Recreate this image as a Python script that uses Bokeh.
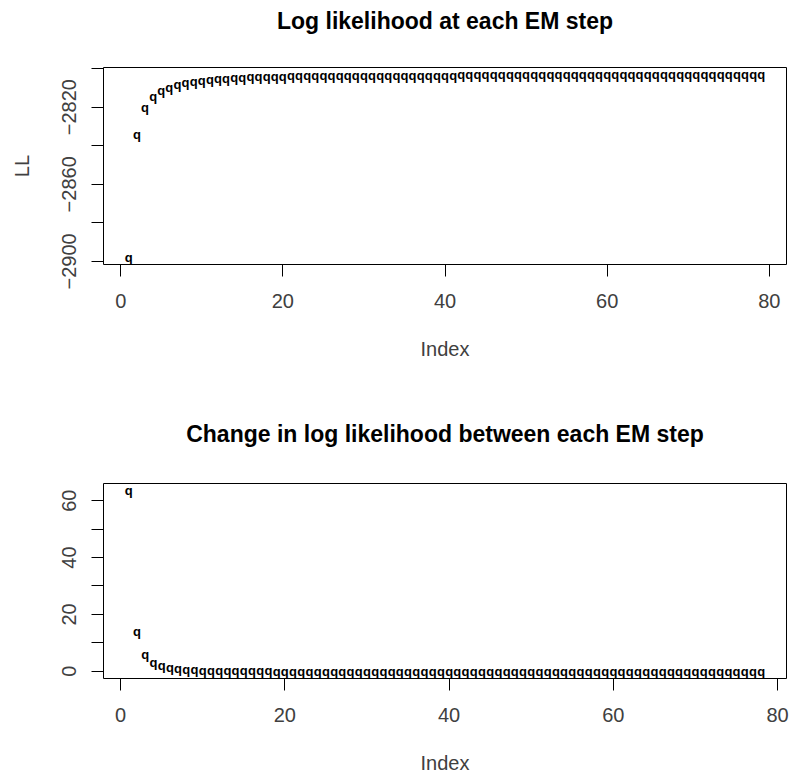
from bokeh.plotting import figure
from bokeh.layouts import column
from bokeh.models import Range1d, FixedTicker
from bokeh.core.properties import value
from bokeh.embed import file_html
from bokeh.resources import INLINE

# Log likelihood recorded after each EM iteration
log_lik = [
    -2897.80, -2834.30, -2820.40, -2814.60, -2811.50, -2809.60, -2808.20, -2807.30,
    -2806.60, -2806.05, -2805.60, -2805.23, -2804.93, -2804.68, -2804.48, -2804.31,
    -2804.17, -2804.05, -2803.95, -2803.86, -2803.78, -2803.71, -2803.65, -2803.60,
    -2803.555, -2803.515, -2803.48, -2803.455, -2803.435, -2803.415, -2803.40, -2803.385,
    -2803.375, -2803.365, -2803.355, -2803.345, -2803.335, -2803.325, -2803.315, -2803.31,
    -2803.305, -2803.30, -2803.295, -2803.29, -2803.285, -2803.28, -2803.275, -2803.27,
    -2803.265, -2803.26, -2803.255, -2803.253, -2803.251, -2803.249, -2803.247, -2803.245,
    -2803.243, -2803.241, -2803.239, -2803.237, -2803.235, -2803.233, -2803.231, -2803.229,
    -2803.227, -2803.225, -2803.223, -2803.221, -2803.219, -2803.217, -2803.215, -2803.213,
    -2803.211, -2803.209, -2803.207, -2803.205, -2803.203, -2803.201, -2803.199,
]

# Increase in log likelihood between consecutive EM iterations
ll_change = [
    63.5, 13.9, 5.8, 3.1, 1.9, 1.4, 0.9, 0.7, 0.55, 0.45, 0.37, 0.3, 0.25, 0.2,
    0.17, 0.14, 0.12, 0.1, 0.09, 0.08, 0.07, 0.06, 0.05, 0.04, 0.035, 0.03, 0.025,
    0.02, 0.02, 0.015, 0.015, 0.01, 0.01, 0.01, 0.01, 0.01, 0.01, 0.005, 0.005,
    0.005, 0.005, 0.005, 0.005, 0.005, 0.005, 0.005, 0.005, 0.005, 0.005, 0.002,
    0.002, 0.002, 0.002, 0.002, 0.002, 0.002, 0.002, 0.002, 0.002, 0.002, 0.002,
    0.002, 0.002, 0.002, 0.002, 0.002, 0.002, 0.002, 0.002, 0.002, 0.002, 0.002,
    0.002, 0.002, 0.002, 0.002, 0.002, 0.002,
]

x_ticks = [0, 20, 40, 60, 80]
ll_ticks = [-2900, -2880, -2860, -2840, -2820, -2800]
ll_tick_labels = ["\u22122900", "", "\u22122860", "", "\u22122820", ""]
change_ticks = [0, 10, 20, 30, 40, 50, 60]
change_tick_labels = ["0", "", "20", "", "40", "", "60"]

FONT = "Liberation Sans"
TEXT_COLOR = "#404040"
WIDTH = 790
BOX_LEFT, BOX_RIGHT = 103, 4


def padded(lo, hi):
    pad = (hi - lo) * 0.04
    return Range1d(lo - pad, hi + pad)


def heading(text, height, center_from_top):
    """A strip holding a bold title centred over the plotting box below it."""
    h = figure(
        width=WIDTH, height=height, output_backend="svg", toolbar_location=None,
        x_range=Range1d(0, 1), y_range=Range1d(0, height),
        x_axis_type=None, y_axis_type=None,
        min_border=0, min_border_left=0, min_border_right=0,
        min_border_top=0, min_border_bottom=0,
        background_fill_color="white", border_fill_color="white",
    )
    h.grid.visible = False
    h.outline_line_color = None
    # the column lines this strip's frame up with the plotting boxes,
    # so the middle of its x range sits over the middle of the box
    h.text(
        x=[0.5], y=[height - center_from_top], text=[text],
        text_font=value(FONT), text_font_style="bold", text_font_size="23px",
        text_align="center", text_baseline="middle", text_color="black",
    )
    return h


def panel(values, ylabel, ticks, tick_labels, height, top, bottom):
    idx = list(range(1, len(values) + 1))
    p = figure(
        width=WIDTH, height=height, output_backend="svg", toolbar_location=None,
        x_range=padded(min(idx), max(idx)), y_range=padded(min(values), max(values)),
        min_border_left=BOX_LEFT, min_border_right=BOX_RIGHT,
        min_border_top=top, min_border_bottom=bottom,
        background_fill_color="white", border_fill_color="white",
    )
    p.grid.visible = False
    p.outline_line_color = "black"
    p.outline_line_width = 1

    for ax in (p.xaxis[0], p.yaxis[0]):
        ax.axis_line_color = None
        ax.major_tick_in = 0
        ax.major_tick_out = 12
        ax.minor_tick_line_color = None
        ax.major_tick_line_color = "black"
        ax.major_label_text_font = FONT
        ax.major_label_text_font_size = "20px"
        ax.major_label_text_color = TEXT_COLOR
        ax.axis_label_text_font = FONT
        ax.axis_label_text_font_size = "20px"
        ax.axis_label_text_font_style = "normal"
        ax.axis_label_text_color = TEXT_COLOR

    p.xaxis.ticker = FixedTicker(ticks=x_ticks)
    p.xaxis.major_label_overrides = {float(t): str(t) for t in x_ticks}
    p.xaxis.major_label_standoff = 17
    p.xaxis.axis_label = "Index"
    p.xaxis.axis_label_standoff = 27

    p.yaxis.ticker = FixedTicker(ticks=ticks)
    p.yaxis.major_label_overrides = {float(t): lab for t, lab in zip(ticks, tick_labels)}
    p.yaxis.major_label_orientation = "vertical"
    p.yaxis.major_label_standoff = 15
    if ylabel:
        p.yaxis.axis_label = ylabel
        p.yaxis.axis_label_standoff = 27

    p.text(
        x=idx, y=values, text=value("q"),
        text_font=value(FONT), text_font_style="bold", text_font_size="13px",
        text_align="center", text_baseline="middle", text_color="black",
    )
    return p


top_title = heading("Log likelihood at each EM step", height=40, center_from_top=20)
top_panel = panel(log_lik, "LL", ll_ticks, ll_tick_labels,
                  height=348, top=27, bottom=124)
bottom_title = heading("Change in log likelihood between each EM step",
                       height=60, center_from_top=45)
bottom_panel = panel(ll_change, "", change_ticks, change_tick_labels,
                     height=328, top=35, bottom=97)

layout = column(top_title, top_panel, bottom_title, bottom_panel, spacing=0)

open("out.html", "w").write(file_html(layout, INLINE))
